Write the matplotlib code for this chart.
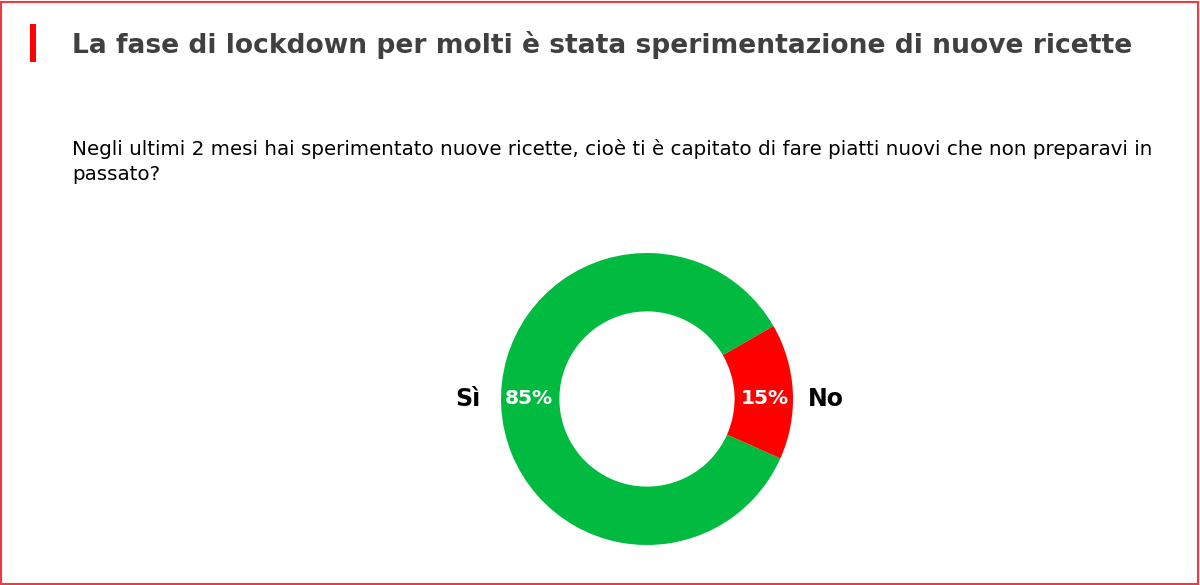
import matplotlib.pyplot as plt
from matplotlib.patches import Rectangle

plt.rcParams['font.family'] = ['DejaVu Sans']

# data
categories = ['Sì', 'No']
values = [85, 15]
colors = ['#00bb40', '#ff0000']

title = 'La fase di lockdown per molti è stata sperimentazione di nuove ricette'
question = ('Negli ultimi 2 mesi hai sperimentato nuove ricette, cioè ti è capitato di fare piatti nuovi che non preparavi in\n'
            'passato?')

W, H = 1200, 585
fig = plt.figure(figsize=(W / 100, H / 100), dpi=100)

# red frame round the whole picture
fig.patches.append(Rectangle((0.001, 0.002), 0.997, 0.995, transform=fig.transFigure,
                             fill=False, edgecolor='#ee3a43', linewidth=1.5))
# red mark left of the title
fig.patches.append(Rectangle((30 / W, 1 - 62 / H), 6 / W, 38 / H, transform=fig.transFigure,
                             facecolor='#ff0000', edgecolor='none'))

fig.text(72 / W, 1 - 45 / H, title, fontsize=19.1, fontweight='bold', color='#404040',
         va='center', ha='left')
fig.text(72 / W, 1 - 139 / H, question, fontsize=14.3, color='#000000',
         va='top', ha='left', linespacing=1.38)

# donut
cx, cy, r = 647, 399, 146
ax = fig.add_axes([(cx - r) / W, (H - cy - r) / H, 2 * r / W, 2 * r / H])
wedges, texts, autotexts = ax.pie(values, labels=categories, colors=colors, startangle=30,
                                  counterclock=True, radius=1, labeldistance=1.23,
                                  autopct='%d%%', pctdistance=0.81,
                                  wedgeprops=dict(width=0.4, linewidth=0))
for t in texts:
    t.set_fontsize(17)
    t.set_fontweight('bold')
    t.set_color('black')
    t.set_ha('center')
    t.set_y(0)
for t in autotexts:
    t.set_fontsize(14.5)
    t.set_fontweight('bold')
    t.set_color('white')
    t.set_y(0)
ax.set_xlim(-1, 1)
ax.set_ylim(-1, 1)
ax.set_aspect('equal')
ax.axis('off')

fig.savefig('out.png', dpi=100)
